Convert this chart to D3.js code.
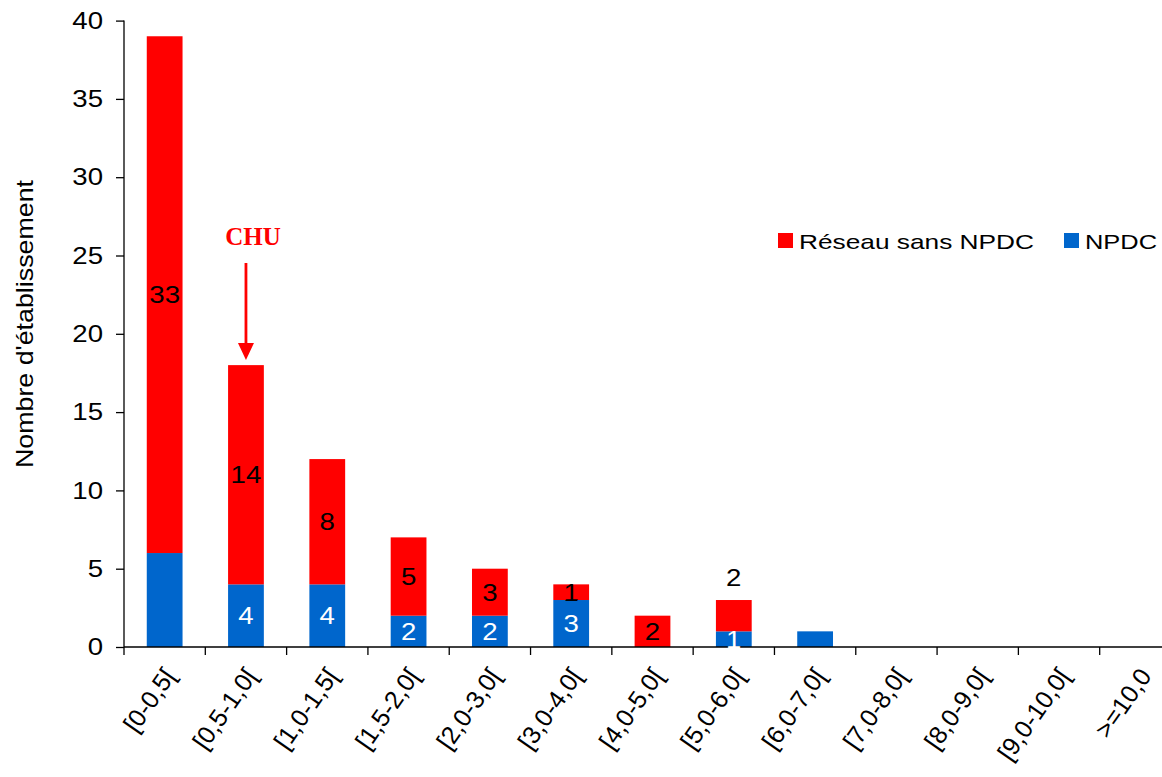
<!DOCTYPE html>
<html><head><meta charset="utf-8">
<script src="https://cdn.jsdelivr.net/npm/d3@7"></script>
<style>body{margin:0;background:#fff}svg{display:block}</style>
</head><body>
<script>
const categories = ["[0-0,5[","[0,5-1,0[","[1,0-1,5[","[1,5-2,0[","[2,0-3,0[","[3,0-4,0[","[4,0-5,0[","[5,0-6,0[","[6,0-7,0[","[7,0-8,0[","[8,0-9,0[","[9,0-10,0[",">=10,0"];
const npdc   = [6,4,4,2,2,3,0,1,1,0,0,0,0];
const reseau = [33,14,8,5,3,1,2,2,0,0,0,0,0];
const npdcLabels   = ["","4","4","2","2","3","","1","","","","",""];
const reseauLabels = ["33","14","8","5","3","1","2","2","","","","",""];
const reseauLabelAbove = ["[5,0-6,0["];
const yTicks = [0,5,10,15,20,25,30,35,40];
const seriesNames = ["Réseau sans NPDC","NPDC"];
const colors = {"Réseau sans NPDC":"#FF0000","NPDC":"#0066CC"};
const annotation = {text:"CHU", category:"[0,5-1,0["};

const W=1162,H=777;
const svg=d3.select("body").append("svg").attr("width",W).attr("height",H);
const font="'Liberation Sans', Arial, sans-serif";
const x=d3.scaleBand().domain(categories).range([124,1181]).paddingInner(0.56).paddingOuter(0.28);
const xb=d3.scaleBand().domain(categories).range([124,1181]);
const y=d3.scaleLinear().domain([0,40]).range([647,20.6]);

function stretch(sel,f){
  sel.each(function(){const n=this;const L=n.getComputedTextLength();
    d3.select(n).attr("textLength",L*f).attr("lengthAdjust","spacingAndGlyphs");});
}

// bars
const g=svg.append("g");
categories.forEach((c,i)=>{
  const b=npdc[i], r=reseau[i];
  if(b>0) g.append("rect").attr("x",x(c)).attr("width",x.bandwidth()).attr("y",y(b)).attr("height",y(0)-y(b)).attr("fill",colors["NPDC"]);
  if(r>0) g.append("rect").attr("x",x(c)).attr("width",x.bandwidth()).attr("y",y(b+r)).attr("height",y(b)-y(b+r)).attr("fill",colors["Réseau sans NPDC"]);
});

// axes
const yAxis=d3.axisLeft(y).tickValues(yTicks).tickSize(8).tickPadding(13);
const ya=svg.append("g").attr("transform","translate(124,0)").call(yAxis);
ya.selectAll("text").attr("font-family",font).attr("font-size",24).attr("fill","#000");
ya.selectAll("line,path").attr("stroke","#000").attr("stroke-width",1.3);
ya.select("path").attr("d","M0,20.6V647");
stretch(ya.selectAll("text"),1.15);

const xa=svg.append("g").attr("transform","translate(0,647)");
xa.append("line").attr("x1",124).attr("x2",1181).attr("stroke","#000").attr("stroke-width",1.3);
categories.forEach((c,i)=>{
  xa.append("line").attr("x1",xb(c)).attr("x2",xb(c)).attr("y1",0).attr("y2",8).attr("stroke","#000").attr("stroke-width",1.3);
  const cx=xb(c)+xb.bandwidth()/2;
  xa.append("text").attr("transform",`translate(${cx+5},24) rotate(-55)`).attr("text-anchor","end")
    .attr("dy","0.35em").attr("font-family",font).attr("font-size",25).attr("fill","#000").text(c);
});

// labels
categories.forEach((c,i)=>{
  const cx=x(c)+x.bandwidth()/2;
  const b=npdc[i], r=reseau[i];
  if(npdcLabels[i]) svg.append("text").attr("x",cx).attr("y",y(b/2)).attr("dy","0.36em").attr("text-anchor","middle")
     .attr("font-family",font).attr("font-size",24).attr("fill","#fff").text(npdcLabels[i]).call(stretch,1.15);
  if(reseauLabels[i]){
    const above=reseauLabelAbove.includes(c);
    svg.append("text").attr("x",cx).attr("y",above? y(b+r)-23 : y(b+r/2)).attr("dy","0.36em").attr("text-anchor","middle")
     .attr("font-family",font).attr("font-size",24).attr("fill","#000").text(reseauLabels[i]).call(stretch,1.15);
  }
});

// y title
svg.append("text").attr("transform","translate(33,324) rotate(-90)").attr("text-anchor","middle")
  .attr("font-family",font).attr("font-size",24).attr("fill","#000").text("Nombre d'établissement")
  .attr("textLength",288).attr("lengthAdjust","spacingAndGlyphs");

// legend
const leg=svg.append("g");
const legX=[778,1064], legW=[235,72];
seriesNames.forEach((s,i)=>{
  leg.append("rect").attr("x",legX[i]).attr("y",233).attr("width",15).attr("height",15).attr("fill",colors[s]);
  leg.append("text").attr("x",legX[i]+21).attr("y",248.5).attr("font-family",font).attr("font-size",21).attr("fill","#000").text(s)
    .attr("textLength",legW[i]).attr("lengthAdjust","spacingAndGlyphs");
});

// CHU annotation
const ai=categories.indexOf(annotation.category);
const ax=x(annotation.category)+x.bandwidth()/2;
const topVal=npdc[ai]+reseau[ai];
svg.append("text").attr("x",ax+7).attr("y",245).attr("text-anchor","middle").attr("font-family","'Liberation Serif','Times New Roman',serif")
  .attr("font-weight","bold").attr("font-size",25).attr("fill","#FF0000").text(annotation.text);
svg.append("line").attr("x1",ax).attr("x2",ax).attr("y1",263).attr("y2",y(topVal)-18).attr("stroke","#FF0000").attr("stroke-width",2.8);
svg.append("path").attr("d",`M${ax-8},${y(topVal)-22} L${ax+8},${y(topVal)-22} L${ax},${y(topVal)-5} Z`).attr("fill","#FF0000");
</script>
</body></html>
